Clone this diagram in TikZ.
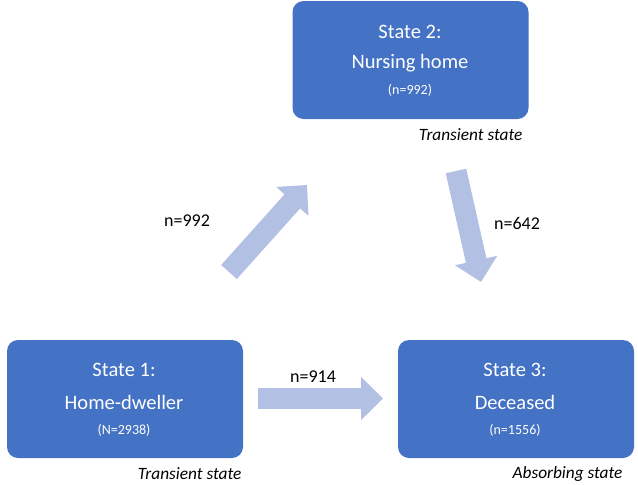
\documentclass[tikz,border=0pt]{standalone}
\usepackage{fontspec}
\setmainfont{Carlito}
\usetikzlibrary{arrows.meta}
\definecolor{boxblue}{RGB}{68,114,196}
\definecolor{arrowblue}{RGB}{178,192,228}
\tikzset{
  statebox/.style={draw=none, fill=boxblue, rounded corners=11pt, text=white, align=center, minimum width=236pt, minimum height=118pt, inner sep=0pt},
  big/.style={text=white, font=\fontsize{20.5}{24}\selectfont},
  small/.style={text=white, font=\fontsize{14}{16}\selectfont},
  flow/.style={draw=arrowblue, line width=21pt, -{Triangle[width=42pt,length=22pt]}},
  tag/.style={font=\fontsize{17.3}{20}\selectfont\itshape, anchor=east},
  count/.style={font=\fontsize{18}{21}\selectfont}
}
\begin{document}
\begin{tikzpicture}[x=1pt,y=-1pt]
\useasboundingbox (0,0) rectangle (638,485);
\node[statebox] (s2) at (410.5,60) {};
\node[statebox] (s1) at (125,399) {};
\node[statebox] (s3) at (516,399) {};
\node[big] (s2a) at (410,32) {State 2:};
\node[big] (s2b) at (410,63) {Nursing home};
\node[small] (s2c) at (410,90) {(n=992)};
\node[big] (s1a) at (124,370) {State 1:};
\node[big] (s1b) at (124,402) {Home-dweller};
\node[small] (s1c) at (124,430) {(N=2938)};
\node[big] (s3a) at (515,370) {State 3:};
\node[big] (s3b) at (515,402) {Deceased};
\node[small] (s3c) at (515,430) {(n=1556)};
\node[tag] (t2) at (526,135) {Transient state};
\node[tag] (t1) at (245,474) {Transient state};
\node[tag] (t3) at (626,474) {Absorbing state};
\coordinate (a1s) at (258,398.5);
\coordinate (a1e) at (383,398.5);
\coordinate (a2s) at (229,272);
\coordinate (a2e) at (307,185);
\coordinate (a3s) at (456,171);
\coordinate (a3e) at (481,282);
\draw[flow] (a1s) -- (a1e);
\draw[flow] (a2s) -- (a2e);
\draw[flow] (a3s) -- (a3e);
\node[count] (l1) at (313,377) {n=914};
\node[count] (l2) at (187,221) {n=992};
\node[count] (l3) at (517,223) {n=642};
\end{tikzpicture}
\end{document}
